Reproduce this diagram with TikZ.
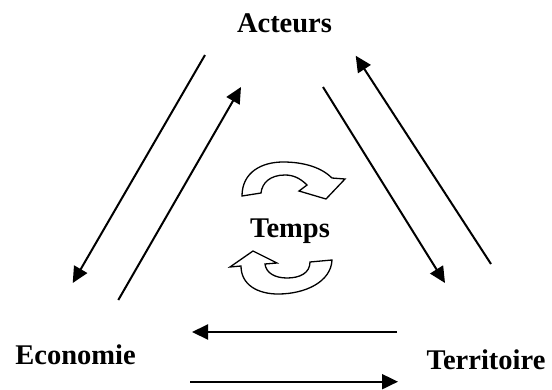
\documentclass[tikz,border=0pt]{standalone}
\usepackage{fontspec}
\setmainfont{Liberation Serif}
\usepackage{tikz}
\usetikzlibrary{arrows.meta}

\begin{document}
\begin{tikzpicture}[x=1pt, y=-1pt, >={Triangle[length=16pt, width=15pt]},
    fleche/.style={->, line width=2pt},
    titre/.style={font=\bfseries\fontsize{28.5}{30}\selectfont, inner sep=0pt, anchor=base},
    boucle/.style={line width=1.3pt, line join=miter, fill=white}]
    \useasboundingbox (0,0) rectangle (552,389);

    % les trois pôles et le temps au centre
    \node[titre] (act) at (284.5, 32) {Acteurs};
    \node[titre] (eco) at (75.5, 364) {Economie};
    \node[titre] (ter) at (486, 369) {Territoire};
    \node[titre] (tps) at (290, 237) {Temps};

    % extrémités des flèches
    \coordinate (ae1) at (205, 55);    \coordinate (ae2) at (72.7, 283);
    \coordinate (ea1) at (118.3, 300); \coordinate (ea2) at (241, 87);
    \coordinate (at1) at (323, 87);    \coordinate (at2) at (445, 283);
    \coordinate (ta1) at (491, 264);   \coordinate (ta2) at (355.7, 55.7);
    \coordinate (te1) at (397, 332);   \coordinate (te2) at (192, 332);
    \coordinate (et1) at (190, 381.7); \coordinate (et2) at (398, 381.7);

    % flèches entre les pôles
    \foreach \a/\b in {ae1/ae2, ea1/ea2, at1/at2, ta1/ta2, te1/te2, et1/et2} {
        \draw[fleche] (\a) -- (\b);
    }

    % flèche circulaire du haut
    \draw[boucle] (242,196) .. controls (242,172) and (262,162) .. (283,162)
        .. controls (305,162) and (322,168) .. (332,178)
        -- (345,179) -- (326,199) -- (299,191) -- (307,185)
        .. controls (300,178) and (293,175) .. (285,175)
        .. controls (270,175) and (262,183) .. (261,193) -- cycle;

    % flèche circulaire du bas
    \draw[boucle] (241,266) .. controls (241,285) and (258,294) .. (278,294)
        .. controls (305,294) and (331,282) .. (332,260)
        -- (310,262) .. controls (310,273) and (300,278) .. (287,278)
        .. controls (275,278) and (266,273) .. (265,264)
        -- (277,263) -- (253,251) -- (230,267) -- cycle;
\end{tikzpicture}
\end{document}
